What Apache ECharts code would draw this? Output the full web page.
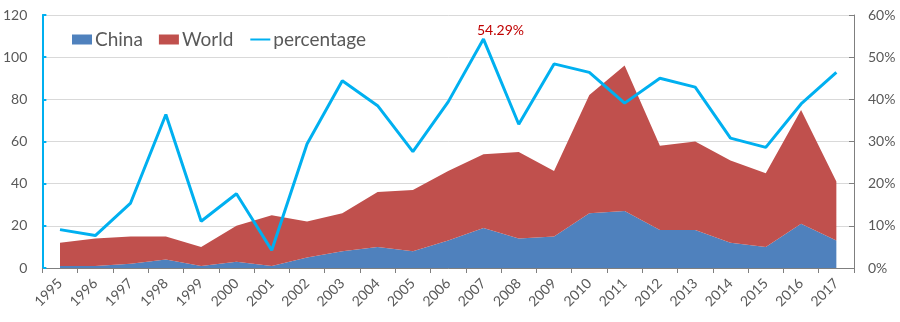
<!DOCTYPE html>
<html>
<head>
<meta charset="utf-8">
<script src="https://cdn.jsdelivr.net/npm/echarts@6/dist/echarts.min.js"></script>
<style>
html,body{margin:0;padding:0;background:#fff;}
#chart{width:900px;height:322px;}
</style>
</head>
<body>
<div id="chart"></div>
<script>
var years = ['1995','1996','1997','1998','1999','2000','2001','2002','2003','2004','2005','2006','2007','2008','2009','2010','2011','2012','2013','2014','2015','2016','2017'];
var china = [1,1,2,4,1,3,1,5,8,10,8,13,19,14,15,26,27,18,18,12,10,21,13];
var world = [11,13,13,11,9,17,24,17,18,26,29,33,35,41,31,56,69,40,42,39,35,54,28];
var percentage = [9.1,7.7,15.4,36.4,11.1,17.6,4.2,29.4,44.4,38.5,27.6,39.4,54.29,34.1,48.4,46.4,39.1,45.0,42.9,30.8,28.6,38.9,46.4];
var leftTicks = {min:0, max:120, interval:20};
var rightTicks = {min:0, max:60, interval:10};

var FONT = 'Lato';
var TXT = '#595959';
var maxPct = Math.max.apply(null, percentage);

var chart = echarts.init(document.getElementById('chart'), null, {renderer:'canvas'});
chart.setOption({
  animation:false,
  textStyle:{fontFamily:FONT},
  grid:{left:42, right:46, top:15, bottom:54, containLabel:false},
  legend:{
    left:67, top:25,
    itemWidth:20, itemHeight:10, itemGap:16,
    textStyle:{fontFamily:FONT, fontSize:19, color:TXT, padding:[0,0,0,-2]},
    data:[
      {name:'China', icon:'rect'},
      {name:'World', icon:'rect'},
      {name:'percentage', itemStyle:{opacity:0}}
    ]
  },
  xAxis:{
    type:'category', data:years, boundaryGap:true,
    axisLine:{lineStyle:{color:'#7f7f7f', width:1}},
    axisTick:{show:true, length:5, alignWithLabel:false, lineStyle:{color:'#7f7f7f'}},
    axisLabel:{rotate:45, interval:0, fontSize:14, color:TXT, fontFamily:FONT, margin:13},
    splitLine:{show:false}
  },
  yAxis:[{
    type:'value', min:leftTicks.min, max:leftTicks.max, interval:leftTicks.interval,
    axisLine:{show:true, lineStyle:{color:'#00b0f0', width:2}},
    axisTick:{show:true, inside:true, length:4, lineStyle:{color:'#00b0f0', width:2}},
    axisLabel:{fontSize:14, color:TXT, fontFamily:FONT, margin:15},
    splitLine:{show:true, lineStyle:{color:'#d9d9d9', width:1}}
  },{
    type:'value', min:rightTicks.min, max:rightTicks.max, interval:rightTicks.interval,
    position:'right',
    axisLine:{show:true, lineStyle:{color:'#7f7f7f', width:1}},
    axisTick:{show:true, inside:true, length:5, lineStyle:{color:'#7f7f7f'}},
    axisLabel:{fontSize:14, color:TXT, fontFamily:FONT, margin:14, formatter:'{value}%'},
    splitLine:{show:false}
  }],
  series:[{
    name:'China', type:'line', stack:'total', data:china, yAxisIndex:0,
    symbol:'none', showSymbol:false,
    lineStyle:{width:0}, areaStyle:{color:'#4f81bd', opacity:1},
    itemStyle:{color:'#4f81bd'}, z:2
  },{
    name:'World', type:'line', stack:'total', data:world, yAxisIndex:0,
    symbol:'none', showSymbol:false,
    lineStyle:{width:0}, areaStyle:{color:'#c0504d', opacity:1},
    itemStyle:{color:'#c0504d'}, z:2
  },{
    name:'percentage', type:'line', data:percentage, yAxisIndex:1,
    symbol:'circle', symbolSize:0, showSymbol:true,
    lineStyle:{color:'#00b0f0', width:3},
    itemStyle:{color:'#00b0f0'},
    label:{show:true, position:'top', distance:2, offset:[17,0], color:'#c00000', fontSize:14, fontFamily:FONT,
      formatter:function(p){ return p.value === maxPct ? p.value.toFixed(2) + '%' : ''; }},
    z:5
  }]
});
</script>
</body>
</html>
